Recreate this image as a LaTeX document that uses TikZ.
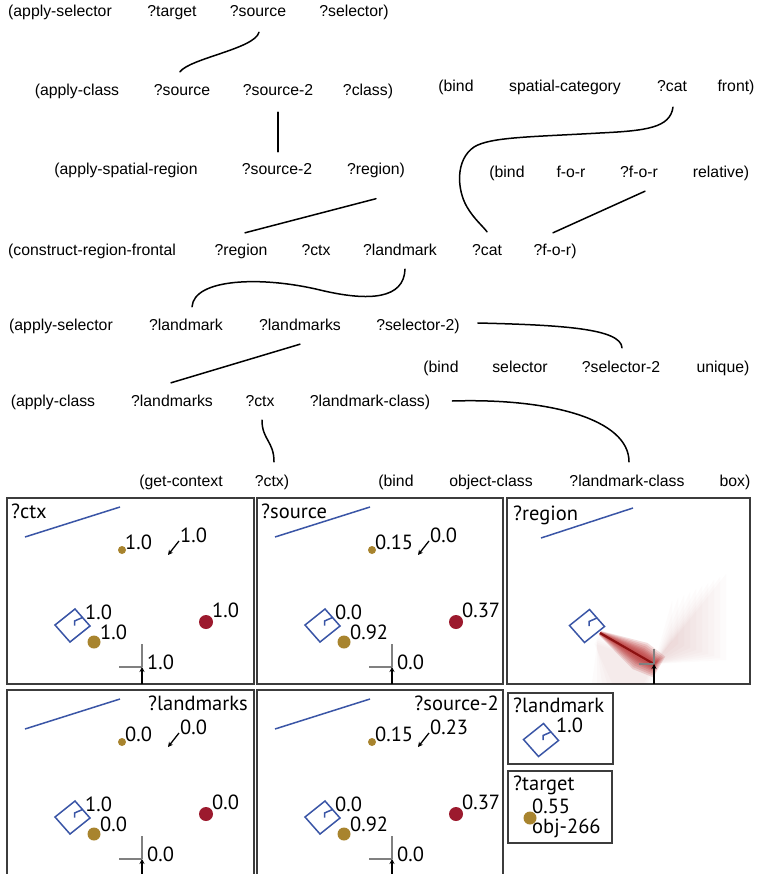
\documentclass[tikz,border=0pt]{standalone}
\usepackage{fontspec}
\setmainfont{Liberation Sans}
\newfontfamily\panelfont{PT Sans}
\usetikzlibrary{arrows.meta,calc}
\definecolor{objblue}{HTML}{3A55A6}
\definecolor{objgold}{HTML}{A8842E}
\definecolor{objred}{HTML}{9C1A2E}
\definecolor{heatred}{HTML}{B01515}
\definecolor{framegray}{HTML}{3C3C3C}
\definecolor{crossgray}{HTML}{808080}
\newcommand\scenepanel[9]{%
\begin{scope}[shift={(#2,#3)}]
 \draw[objline] (25,537) -- (120,507);
 \fill[objgold] (122,550) circle (4pt);
 \node[val] (#1v1) at (125,542) {#4};
 \draw[smallarrow] (179,541) -- (168,555);
 \node[val] (#1v2) at (180,535) {#5};
 \draw[objline] (72.5,625.5) +(-17.5,-0.5) -- +(2.5,-16.5) -- +(17.5,0.5) -- +(-2.5,16.5) -- cycle;
 \draw[objline] (72.5,625.5) +(10,-8) -- +(2,-4.5) -- +(2,0);
 \node[val] (#1v3) at (85,612) {#6};
 \fill[objgold] (94,642) circle (6.5pt);
 \node[val] (#1v4) at (100,632) {#7};
 \fill[objred] (206,622) circle (7pt);
 \node[val] (#1v5) at (212,610) {#8};
 \draw[crossline] (142,644) -- (142,667) (119,667) -- (142,667);
 \draw[smallarrow] (142,684) -- (142,667);
 \node[val] (#1v6) at (147,662) {#9};
\end{scope}}
\begin{document}
\begin{tikzpicture}[x=1pt,y=-1pt,
 word/.style={inner sep=0pt, anchor=base, font=\fontsize{15.8}{18}\selectfont, text height=11.5pt, text depth=3.5pt},
 conn/.style={line width=1.5pt, line cap=round},
 val/.style={inner sep=0pt, anchor=west, font=\panelfont\fontsize{20.5}{24}\selectfont},
 plabel/.style={inner sep=0pt, font=\panelfont\fontsize{20.5}{24}\selectfont},
 objline/.style={objblue, line width=1.5pt},
 smallarrow/.style={line width=1.3pt, -{Stealth[length=5pt,width=5pt]}},
 crossline/.style={crossgray, line width=1.5pt},
 frame/.style={framegray, line width=1.3pt}]
\useasboundingbox (0,0) rectangle (757,874);
\fill[white] (0,0) rectangle (757,874);
% ---- expression rows ----
\node[word] (a1) at (60,17) {(apply-selector};
\node[word] (a1t) at (172,17) {?target};
\node[word] (a1s) at (258,17) {?source};
\node[word] (a1sel) at (354,17) {?selector)};
\node[word] (b1) at (77,96) {(apply-class};
\node[word] (b1s) at (182,96) {?source};
\node[word] (b1s2) at (278,96) {?source-2};
\node[word] (b1c) at (368,96) {?class)};
\node[word] (c1) at (126,175) {(apply-spatial-region};
\node[word] (c1s2) at (277,175) {?source-2};
\node[word] (c1r) at (376,175) {?region)};
\node[word] (d1) at (456,92) {(bind};
\node[word] (d1sc) at (565,92) {spatial-category};
\node[word] (d1cat) at (672,92) {?cat};
\node[word] (d1f) at (736,92) {front)};
\node[word] (e1) at (507,178) {(bind};
\node[word] (e1f) at (571,178) {f-o-r};
\node[word] (e1q) at (639,178) {?f-o-r};
\node[word] (e1r) at (721,178) {relative)};
\node[word] (f1) at (92,255) {(construct-region-frontal};
\node[word] (f1r) at (241,255) {?region};
\node[word] (f1c) at (316,255) {?ctx};
\node[word] (f1l) at (400,255) {?landmark};
\node[word] (f1cat) at (487,255) {?cat};
\node[word] (f1for) at (555,255) {?f-o-r)};
\node[word] (g1) at (61,330) {(apply-selector};
\node[word] (g1l) at (186,330) {?landmark};
\node[word] (g1ls) at (300,330) {?landmarks};
\node[word] (g1s) at (418,330) {?selector-2)};
\node[word] (h1) at (441,372) {(bind};
\node[word] (h1s) at (520,372) {selector};
\node[word] (h1s2) at (621,372) {?selector-2};
\node[word] (h1u) at (723,372) {unique)};
\node[word] (i1) at (53,406) {(apply-class};
\node[word] (i1ls) at (172,406) {?landmarks};
\node[word] (i1c) at (260,406) {?ctx};
\node[word] (i1lc) at (370,406) {?landmark-class)};
\node[word] (j1) at (181,486) {(get-context};
\node[word] (j1c) at (272,486) {?ctx)};
\node[word] (k1) at (396,486) {(bind};
\node[word] (k1oc) at (491,486) {object-class};
\node[word] (k1lc) at (627,486) {?landmark-class};
\node[word] (k1b) at (735,486) {box)};
% ---- connectors ----
\draw[conn] ($(a1s.south)+(1,11.5)$) .. controls ($(a1s.south)+(-3,28)$) and ($(b1s.north)+(8,-26)$) .. ($(b1s.north)+(-2,-12.5)$);
\draw[conn] ($(b1s2.south)+(0,12.5)$) -- ($(c1s2.north)+(1,-11.5)$);
\draw[conn] ($(c1r.south)+(0,20)$) -- ($(f1r.north)+(4,-10.5)$);
\draw[conn] ($(d1cat.south)+(1,11.5)$) .. controls ($(d1cat.south)+(-2,32)$) and ($(d1cat.south)+(-25,35)$) .. (600,133)
  .. controls (530,137) and (490,137) .. (474,147)
  .. controls (455,160) and (457,190) .. (467,207)
  .. controls (474,219) and ($(f1cat.north)+(-4,-17)$) .. ($(f1cat.north)+(0,-11.5)$);
\draw[conn] ($(e1q.south)+(6,9.5)$) -- ($(f1for.north)+(-2,-10.5)$);
\draw[conn] ($(f1l.south)+(5,10.5)$) .. controls ($(f1l.south)+(4,40)$) and (370,302) .. (320,290)
  .. controls (262,276) and ($(g1l.north)+(8,-40)$) .. ($(g1l.north)+(6,-11.5)$);
\draw[conn] ($(g1ls.south)+(0,10.5)$) -- ($(i1ls.north)+(-1,-11.5)$);
\draw[conn] ($(g1s.east)+(18,-3)$) .. controls ($(g1s.east)+(100,-1)$) and ($(h1s2.north)+(0,-32)$) .. ($(h1s2.north)+(1,-12.5)$);
\draw[conn] ($(i1lc.east)+(22,-1)$) .. controls ($(i1lc.east)+(120,-4)$) and ($(k1lc.north)+(2,-55)$) .. ($(k1lc.north)+(2,-12.5)$);
\draw[conn] ($(i1c.south)+(2,10.5)$) .. controls ($(i1c.south)+(2,30)$) and ($(j1c.north)+(2,-33)$) .. ($(j1c.north)+(2,-12.5)$);
% ---- panels ----
\draw[frame] (7,498) rectangle (254,684);
\draw[frame] (257,498) rectangle (503,684);
\draw[frame] (507,498) rectangle (750,684);
\draw[frame] (7,690) rectangle (254,880);
\draw[frame] (257,690) rectangle (503,880);
\draw[frame] (508,693) rectangle (613,764);
\draw[frame] (508,771) rectangle (612,843);
\scenepanel{pa}{0}{0}{1.0}{1.0}{1.0}{1.0}{1.0}{1.0}
\scenepanel{pb}{250}{0}{0.15}{0.0}{0.0}{0.92}{0.37}{0.0}
\scenepanel{pd}{0}{192}{0.0}{0.0}{1.0}{0.0}{0.0}{0.0}
\scenepanel{pe}{250}{192}{0.15}{0.23}{0.0}{0.92}{0.37}{0.0}
\node[plabel, anchor=base west] (lctx) at (11,518) {?ctx};
\node[plabel, anchor=base west] (lsrc) at (261,518) {?source};
\node[plabel, anchor=base east] (llms) at (248,710) {?landmarks};
\node[plabel, anchor=base east] (lsrc2) at (499,710) {?source-2};
% ---- region panel: heat map ----
\coordinate (hp0) at (600,633);
\coordinate (hm) at (640,656);
\coordinate (hp1) at (654,664);
\coordinate (hn) at (-0.498,0.867);
\coordinate (hd) at (0.867,0.498);
\begin{scope}
 % faint broad cone towards the upper right, strongest near the cross
 \foreach \i in {0,...,9} {
   \fill[heatred, opacity=0.016] (hp1) -- ({726-6*\i},{574+3*\i}) -- ({726-6*\i},{660-2*\i}) -- cycle;
 }
 % faint spread below the streak
 \foreach \i in {0,...,4} {
   \fill[heatred, opacity=0.014] ($(hp0)+{4+2*\i}*(hn)$) -- (hp1) -- ({652-2*\i},683) -- ({592+5*\i},683) -- cycle;
 }
 % glow around the streak
 \foreach \w/\e in {15/6,13/5,11/4,9/3,7.5/2.5,6/2,4.5/1.5,3/1} {
   \fill[heatred, opacity=0.15]
     ($(hp0)+{0.15*\w}*(hn)$) -- ($(hm)+{\w}*(hn)$) -- ($(hp1)+{\e}*(hd)+{0.8*\w}*(hn)$)
     -- ($(hp1)+{\e}*(hd)-{0.8*\w}*(hn)$) -- ($(hm)-{\w}*(hn)$) -- ($(hp0)-{0.15*\w}*(hn)$) -- cycle;
 }
 \draw[heatred!80!black, line width=2.2pt] (hp0) -- (hp1);
\end{scope}
\draw[objline] (541,538) -- (633,508);
\draw[objline] (587,626) +(-17.5,-0.5) -- +(2.5,-16.5) -- +(17.5,0.5) -- +(-2.5,16.5) -- cycle;
\draw[objline] (587,626) +(10,-8) -- +(2,-4.5) -- +(2,0);
\draw[crossline] (654,649) -- (654,664) (639,664) -- (654,664);
\draw[smallarrow] (654,684) -- (654,664);
\node[plabel, anchor=base west] (lreg) at (513,520) {?region};
% ---- landmark panel ----
\node[plabel, anchor=base west] (llm) at (513,712) {?landmark};
\node[val] (lmv) at (556,725) {1.0};
\draw[objline] (541,740) +(-17.5,-0.5) -- +(2.5,-16.5) -- +(17.5,0.5) -- +(-2.5,16.5) -- cycle;
\draw[objline] (541,740) +(10,-8) -- +(2,-4.5) -- +(2,0);
% ---- target panel ----
\node[plabel, anchor=base west] (ltgt) at (513,790) {?target};
\node[val] (tgv) at (532,806) {0.55};
\fill[objgold] (530,818) circle (6.5pt);
\node[plabel, anchor=base west] (tgo) at (532,833) {obj-266};
\end{tikzpicture}
\end{document}
